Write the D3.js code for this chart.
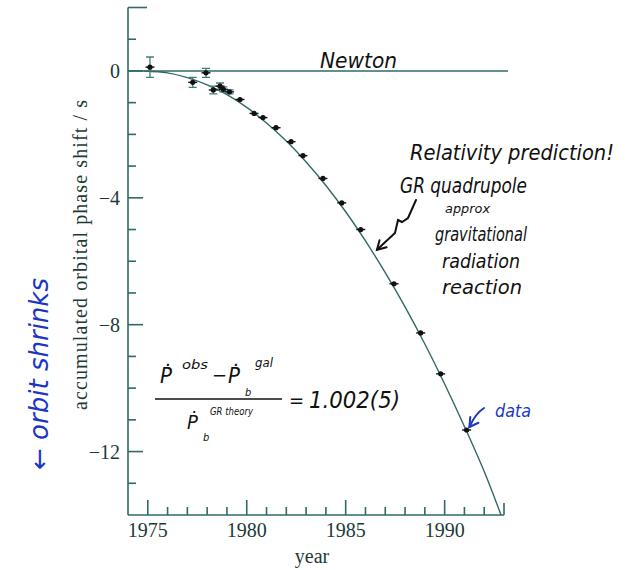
<!DOCTYPE html>
<html>
<head>
<meta charset="utf-8">
<script src="https://cdn.jsdelivr.net/npm/d3@7"></script>
<style>
  body { margin: 0; background: #fff; }
  svg { display: block; }
  .tick-label { font-family: "Liberation Serif", "DejaVu Serif", serif; font-size: 20px; fill: #1c3a38; }
  .hand { font-family: "Liberation Sans Narrow", "DejaVu Sans Condensed", "Liberation Sans", sans-serif; font-style: italic; fill: #111; }
  .blue { fill: #1b36c4; }
</style>
</head>
<body>
<svg id="chart"></svg>
<script>
const width = 632;
const height = 570;

// axis setup
const xDomain = [1974, 1993];
const yDomain = [-14, 2];
const xTicks = d3.range(1975, 1994);
const xTickLabels = [1975, 1980, 1985, 1990];
const yTicks = d3.range(-13, 3);
const yTickLabels = [0, -4, -8, -12];

// GR prediction curve
const curveYears = [1974.8, 1976, 1977, 1978, 1979, 1980, 1981, 1982, 1983, 1984, 1985, 1986, 1987, 1988, 1989, 1990, 1991, 1992, 1992.85];
const curveShift = [0, -0.06, -0.21, -0.44, -0.75, -1.15, -1.64, -2.21, -2.87, -3.61, -4.44, -5.36, -6.36, -7.44, -8.61, -9.87, -11.21, -12.63, -14];

// Newton line (no shift)
const newtonYears = [1974, 1993.2];
const newtonShift = [0, 0];

// measured points
const dataYears = [1975.11, 1977.27, 1977.94, 1978.31, 1978.65, 1978.82, 1979.13, 1979.66, 1980.37, 1980.82, 1981.48, 1982.24, 1982.84, 1983.85, 1984.8, 1985.76, 1987.44, 1988.79, 1989.8, 1991.11];
const dataShift = [0.12, -0.36, -0.06, -0.6, -0.48, -0.58, -0.66, -0.9, -1.34, -1.47, -1.79, -2.23, -2.67, -3.39, -4.16, -5.0, -6.71, -8.26, -9.55, -11.32];
const dataErr = [0.32, 0.16, 0.14, 0.12, 0.1, 0.08, 0.06, 0, 0, 0, 0, 0, 0, 0, 0, 0, 0, 0, 0, 0];

const axisColor = "#2f6a66";

const svg = d3.select("#chart")
  .attr("width", width)
  .attr("height", height);

const x = d3.scaleLinear().domain(xDomain).range([128, 504]);
const y = d3.scaleLinear().domain(yDomain).range([515, 7.5]);

//* axes (drawn by hand so ticks point inward like the print)
const axes = svg.append("g").attr("stroke", axisColor).attr("stroke-width", 1.6).attr("fill", "none");
axes.append("line").attr("x1", x(xDomain[0])).attr("x2", x(xDomain[0])).attr("y1", y(yDomain[1])).attr("y2", y(yDomain[0]));
axes.append("line").attr("x1", x(xDomain[0])).attr("x2", x(xDomain[1])).attr("y1", y(yDomain[0])).attr("y2", y(yDomain[0]));

axes.selectAll(".xt")
  .data(xTicks)
  .join("line")
  .attr("x1", d => x(d)).attr("x2", d => x(d))
  .attr("y1", y(yDomain[0]))
  .attr("y2", d => y(yDomain[0]) - (d % 5 === 0 ? 15 : d === 1993 ? 12 : 8));

axes.selectAll(".yt")
  .data(yTicks)
  .join("line")
  .attr("x1", x(xDomain[0]))
  .attr("x2", d => x(xDomain[0]) + (d === 2 ? 19 : d % 4 === 0 ? 15 : 8))
  .attr("y1", d => y(d)).attr("y2", d => y(d));

svg.append("g").selectAll("text")
  .data(xTickLabels)
  .join("text")
  .attr("class", "tick-label")
  .attr("x", d => x(d))
  .attr("y", 537)
  .attr("text-anchor", "middle")
  .text(d => d);

svg.append("g").selectAll("text")
  .data(yTickLabels)
  .join("text")
  .attr("class", "tick-label")
  .attr("x", 120)
  .attr("y", d => y(d) + 7)
  .attr("text-anchor", "end")
  .text(d => d === 0 ? "0" : "\u2212" + Math.abs(d));

svg.append("text")
  .attr("class", "tick-label")
  .attr("x", 312).attr("y", 563)
  .attr("text-anchor", "middle")
  .text("year");

svg.append("text")
  .attr("class", "tick-label")
  .attr("transform", "translate(87,255) rotate(-90)")
  .attr("text-anchor", "middle")
  .attr("textLength", 310)
  .text("accumulated orbital phase shift / s");

//* lines
const line = d3.line().x(d => x(d[0])).y(d => y(d[1]));

svg.append("path")
  .datum(d3.zip(newtonYears, newtonShift))
  .attr("d", line)
  .attr("fill", "none")
  .attr("stroke", axisColor)
  .attr("stroke-width", 1.6);

svg.append("path")
  .datum(d3.zip(curveYears, curveShift))
  .attr("d", line.curve(d3.curveCatmullRom))
  .attr("fill", "none")
  .attr("stroke", axisColor)
  .attr("stroke-width", 1.4);

//* data points
const pts = d3.zip(dataYears, dataShift, dataErr);
const pg = svg.append("g");
pg.selectAll(".err")
  .data(pts.filter(d => d[2] > 0))
  .join("path")
  .attr("d", d => {
    const cx = x(d[0]), t = y(d[1] + d[2]), b = y(d[1] - d[2]);
    return `M${cx - 4},${t}H${cx + 4}M${cx},${t}V${b}M${cx - 4},${b}H${cx + 4}`;
  })
  .attr("stroke", "#3d7f79")
  .attr("stroke-width", 1.3)
  .attr("fill", "none");
pg.selectAll(".bar")
  .data(pts)
  .join("line")
  .attr("x1", d => x(d[0]) - 4.5).attr("x2", d => x(d[0]) + 4.5)
  .attr("y1", d => y(d[1])).attr("y2", d => y(d[1]))
  .attr("stroke", "#111").attr("stroke-width", 1.4);
pg.selectAll("circle")
  .data(pts)
  .join("circle")
  .attr("cx", d => x(d[0]))
  .attr("cy", d => y(d[1]))
  .attr("r", 2.6)
  .attr("fill", "#111");

//* handwritten notes
const note = (txt, px, py, size, len, cls) => svg.append("text")
  .attr("class", "hand" + (cls ? " " + cls : ""))
  .attr("x", px).attr("y", py)
  .attr("font-size", size)
  .attr("textLength", len)
  .attr("lengthAdjust", "spacingAndGlyphs")
  .text(txt);

note("Newton", 320, 68, 22, 77);
note("Relativity prediction!", 410, 160, 22, 204);
note("GR quadrupole", 400, 193, 21, 127);
note("approx", 445, 213, 13, 45);
note("gravitational", 435, 241, 20, 92);
note("radiation", 442, 268, 20, 78);
note("reaction", 442, 294, 20, 80);
note("data", 495, 417, 18, 36, "blue");

svg.append("text")
  .attr("class", "hand blue")
  .attr("transform", "translate(48,470) rotate(-90)")
  .attr("font-size", 26)
  .attr("textLength", 192)
  .attr("lengthAdjust", "spacingAndGlyphs")
  .text("\u2190 orbit shrinks");

// arrows
const arrow = (pathD, tip, ang, color) => {
  svg.append("path").attr("d", pathD).attr("fill", "none").attr("stroke", color).attr("stroke-width", 2).attr("stroke-linecap", "round");
  const a1 = (ang + 150) * Math.PI / 180, a2 = (ang - 150) * Math.PI / 180;
  svg.append("path")
    .attr("d", `M${tip[0] + 10 * Math.cos(a1)},${tip[1] + 10 * Math.sin(a1)}L${tip[0]},${tip[1]}L${tip[0] + 10 * Math.cos(a2)},${tip[1] + 10 * Math.sin(a2)}`)
    .attr("fill", "none").attr("stroke", color).attr("stroke-width", 2).attr("stroke-linecap", "round");
};
const grTip = [x(1986.58), y(-5.64)];
arrow(`M416,200 L408,218 L402,222 L398,220 L395,233 L${grTip[0]},${grTip[1]}`, grTip, 135, "#111");
const dTip = [x(1991.15) + 2, y(-11.32) - 3];
arrow(`M484,408 Q475,414 ${dTip[0]},${dTip[1]}`, dTip, 125, "#1b36c4");

//* formula
const f = svg.append("g").attr("class", "hand");
const ft = (txt, px, py, size, len) => {
  const t = f.append("text").attr("x", px).attr("y", py).attr("font-size", size).text(txt);
  if (len) t.attr("textLength", len).attr("lengthAdjust", "spacingAndGlyphs");
  return t;
};
ft("\u1E56", 160, 383, 22);
ft("obs", 182, 369, 13, 26);
ft("\u2212", 212, 382, 20);
ft("\u1E56", 228, 383, 22);
ft("b", 245, 396, 11);
ft("gal", 255, 367, 12, 18);
f.append("line").attr("x1", 155).attr("x2", 282).attr("y1", 399).attr("y2", 399).attr("stroke", "#111").attr("stroke-width", 1.3);
ft("\u1E56", 187, 429, 20);
ft("b", 203, 441, 11);
ft("GR theory", 210, 415, 10, 43);
ft("=", 289, 407, 20);
ft("1.002(5)", 309, 408, 23, 91);
</script>
</body>
</html>
